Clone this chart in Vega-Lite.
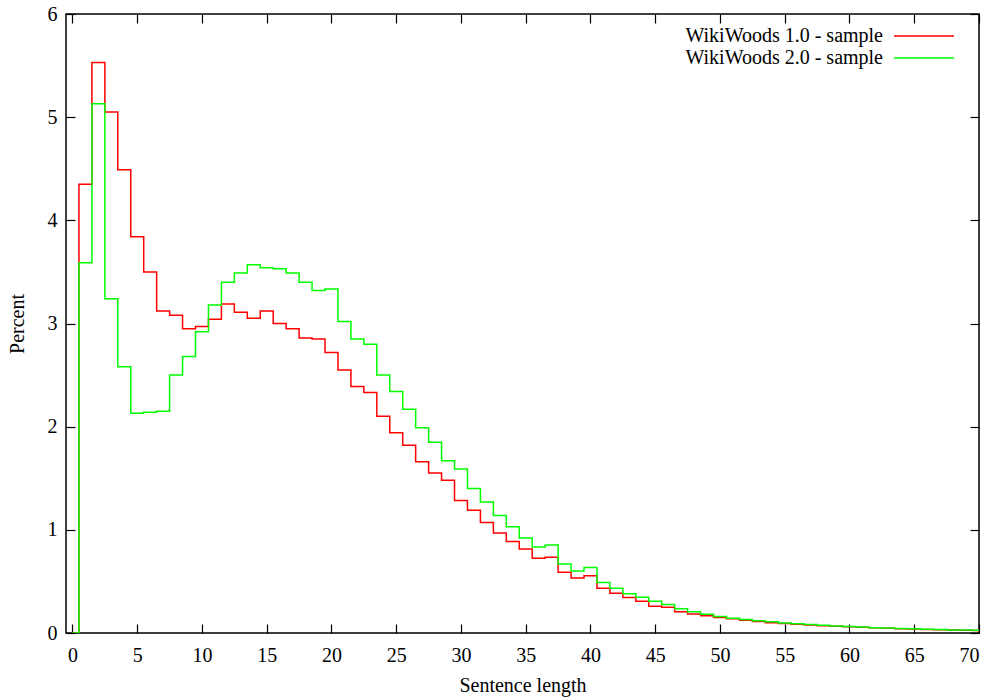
{
  "$schema": "https://vega.github.io/schema/vega-lite/v6.json",
  "width": 913,
  "height": 619,
  "autosize": "none",
  "padding": {"left": 66, "top": 14, "right": 17, "bottom": 64},
  "background": "white",
  "config": {
    "view": {"stroke": "black", "strokeWidth": 1.5},
    "font": "Liberation Serif",
    "axis": {"grid": false, "domain": false, "labelFont": "Liberation Serif", "labelFontSize": 20, "labelColor": "black", "tickColor": "black", "tickWidth": 1.2, "titleFont": "Liberation Serif", "titleFontSize": 20, "titleFontWeight": "normal", "titleColor": "black"},
    "legend": {"labelFont": "Liberation Serif", "labelFontSize": 20, "labelColor": "black"}
  },
  "data": {"values": [
    {"len":0,"series":"WikiWoods 1.0 - sample","pct":0},
    {"len":1,"series":"WikiWoods 1.0 - sample","pct":4.35},
    {"len":2,"series":"WikiWoods 1.0 - sample","pct":5.53},
    {"len":3,"series":"WikiWoods 1.0 - sample","pct":5.05},
    {"len":4,"series":"WikiWoods 1.0 - sample","pct":4.49},
    {"len":5,"series":"WikiWoods 1.0 - sample","pct":3.84},
    {"len":6,"series":"WikiWoods 1.0 - sample","pct":3.50},
    {"len":7,"series":"WikiWoods 1.0 - sample","pct":3.12},
    {"len":8,"series":"WikiWoods 1.0 - sample","pct":3.08},
    {"len":9,"series":"WikiWoods 1.0 - sample","pct":2.95},
    {"len":10,"series":"WikiWoods 1.0 - sample","pct":2.97},
    {"len":11,"series":"WikiWoods 1.0 - sample","pct":3.04},
    {"len":12,"series":"WikiWoods 1.0 - sample","pct":3.19},
    {"len":13,"series":"WikiWoods 1.0 - sample","pct":3.11},
    {"len":14,"series":"WikiWoods 1.0 - sample","pct":3.05},
    {"len":15,"series":"WikiWoods 1.0 - sample","pct":3.12},
    {"len":16,"series":"WikiWoods 1.0 - sample","pct":3.00},
    {"len":17,"series":"WikiWoods 1.0 - sample","pct":2.95},
    {"len":18,"series":"WikiWoods 1.0 - sample","pct":2.86},
    {"len":19,"series":"WikiWoods 1.0 - sample","pct":2.85},
    {"len":20,"series":"WikiWoods 1.0 - sample","pct":2.72},
    {"len":21,"series":"WikiWoods 1.0 - sample","pct":2.55},
    {"len":22,"series":"WikiWoods 1.0 - sample","pct":2.39},
    {"len":23,"series":"WikiWoods 1.0 - sample","pct":2.33},
    {"len":24,"series":"WikiWoods 1.0 - sample","pct":2.10},
    {"len":25,"series":"WikiWoods 1.0 - sample","pct":1.94},
    {"len":26,"series":"WikiWoods 1.0 - sample","pct":1.82},
    {"len":27,"series":"WikiWoods 1.0 - sample","pct":1.66},
    {"len":28,"series":"WikiWoods 1.0 - sample","pct":1.55},
    {"len":29,"series":"WikiWoods 1.0 - sample","pct":1.48},
    {"len":30,"series":"WikiWoods 1.0 - sample","pct":1.285},
    {"len":31,"series":"WikiWoods 1.0 - sample","pct":1.19},
    {"len":32,"series":"WikiWoods 1.0 - sample","pct":1.07},
    {"len":33,"series":"WikiWoods 1.0 - sample","pct":0.97},
    {"len":34,"series":"WikiWoods 1.0 - sample","pct":0.886},
    {"len":35,"series":"WikiWoods 1.0 - sample","pct":0.815},
    {"len":36,"series":"WikiWoods 1.0 - sample","pct":0.724},
    {"len":37,"series":"WikiWoods 1.0 - sample","pct":0.734},
    {"len":38,"series":"WikiWoods 1.0 - sample","pct":0.59},
    {"len":39,"series":"WikiWoods 1.0 - sample","pct":0.534},
    {"len":40,"series":"WikiWoods 1.0 - sample","pct":0.554},
    {"len":41,"series":"WikiWoods 1.0 - sample","pct":0.434},
    {"len":42,"series":"WikiWoods 1.0 - sample","pct":0.385},
    {"len":43,"series":"WikiWoods 1.0 - sample","pct":0.344},
    {"len":44,"series":"WikiWoods 1.0 - sample","pct":0.308},
    {"len":45,"series":"WikiWoods 1.0 - sample","pct":0.26},
    {"len":46,"series":"WikiWoods 1.0 - sample","pct":0.25},
    {"len":47,"series":"WikiWoods 1.0 - sample","pct":0.205},
    {"len":48,"series":"WikiWoods 1.0 - sample","pct":0.185},
    {"len":49,"series":"WikiWoods 1.0 - sample","pct":0.166},
    {"len":50,"series":"WikiWoods 1.0 - sample","pct":0.15},
    {"len":51,"series":"WikiWoods 1.0 - sample","pct":0.137},
    {"len":52,"series":"WikiWoods 1.0 - sample","pct":0.124},
    {"len":53,"series":"WikiWoods 1.0 - sample","pct":0.111},
    {"len":54,"series":"WikiWoods 1.0 - sample","pct":0.10},
    {"len":55,"series":"WikiWoods 1.0 - sample","pct":0.092},
    {"len":56,"series":"WikiWoods 1.0 - sample","pct":0.085},
    {"len":57,"series":"WikiWoods 1.0 - sample","pct":0.078},
    {"len":58,"series":"WikiWoods 1.0 - sample","pct":0.071},
    {"len":59,"series":"WikiWoods 1.0 - sample","pct":0.065},
    {"len":60,"series":"WikiWoods 1.0 - sample","pct":0.06},
    {"len":61,"series":"WikiWoods 1.0 - sample","pct":0.055},
    {"len":62,"series":"WikiWoods 1.0 - sample","pct":0.05},
    {"len":63,"series":"WikiWoods 1.0 - sample","pct":0.046},
    {"len":64,"series":"WikiWoods 1.0 - sample","pct":0.042},
    {"len":65,"series":"WikiWoods 1.0 - sample","pct":0.038},
    {"len":66,"series":"WikiWoods 1.0 - sample","pct":0.035},
    {"len":67,"series":"WikiWoods 1.0 - sample","pct":0.032},
    {"len":68,"series":"WikiWoods 1.0 - sample","pct":0.029},
    {"len":69,"series":"WikiWoods 1.0 - sample","pct":0.027},
    {"len":70,"series":"WikiWoods 1.0 - sample","pct":0.025},
    {"len":0,"series":"WikiWoods 2.0 - sample","pct":0},
    {"len":1,"series":"WikiWoods 2.0 - sample","pct":3.59},
    {"len":2,"series":"WikiWoods 2.0 - sample","pct":5.13},
    {"len":3,"series":"WikiWoods 2.0 - sample","pct":3.24},
    {"len":4,"series":"WikiWoods 2.0 - sample","pct":2.58},
    {"len":5,"series":"WikiWoods 2.0 - sample","pct":2.13},
    {"len":6,"series":"WikiWoods 2.0 - sample","pct":2.14},
    {"len":7,"series":"WikiWoods 2.0 - sample","pct":2.15},
    {"len":8,"series":"WikiWoods 2.0 - sample","pct":2.50},
    {"len":9,"series":"WikiWoods 2.0 - sample","pct":2.68},
    {"len":10,"series":"WikiWoods 2.0 - sample","pct":2.92},
    {"len":11,"series":"WikiWoods 2.0 - sample","pct":3.18},
    {"len":12,"series":"WikiWoods 2.0 - sample","pct":3.40},
    {"len":13,"series":"WikiWoods 2.0 - sample","pct":3.49},
    {"len":14,"series":"WikiWoods 2.0 - sample","pct":3.57},
    {"len":15,"series":"WikiWoods 2.0 - sample","pct":3.54},
    {"len":16,"series":"WikiWoods 2.0 - sample","pct":3.53},
    {"len":17,"series":"WikiWoods 2.0 - sample","pct":3.49},
    {"len":18,"series":"WikiWoods 2.0 - sample","pct":3.40},
    {"len":19,"series":"WikiWoods 2.0 - sample","pct":3.32},
    {"len":20,"series":"WikiWoods 2.0 - sample","pct":3.335},
    {"len":21,"series":"WikiWoods 2.0 - sample","pct":3.02},
    {"len":22,"series":"WikiWoods 2.0 - sample","pct":2.85},
    {"len":23,"series":"WikiWoods 2.0 - sample","pct":2.80},
    {"len":24,"series":"WikiWoods 2.0 - sample","pct":2.50},
    {"len":25,"series":"WikiWoods 2.0 - sample","pct":2.34},
    {"len":26,"series":"WikiWoods 2.0 - sample","pct":2.17},
    {"len":27,"series":"WikiWoods 2.0 - sample","pct":1.99},
    {"len":28,"series":"WikiWoods 2.0 - sample","pct":1.85},
    {"len":29,"series":"WikiWoods 2.0 - sample","pct":1.67},
    {"len":30,"series":"WikiWoods 2.0 - sample","pct":1.59},
    {"len":31,"series":"WikiWoods 2.0 - sample","pct":1.40},
    {"len":32,"series":"WikiWoods 2.0 - sample","pct":1.27},
    {"len":33,"series":"WikiWoods 2.0 - sample","pct":1.14},
    {"len":34,"series":"WikiWoods 2.0 - sample","pct":1.03},
    {"len":35,"series":"WikiWoods 2.0 - sample","pct":0.92},
    {"len":36,"series":"WikiWoods 2.0 - sample","pct":0.834},
    {"len":37,"series":"WikiWoods 2.0 - sample","pct":0.854},
    {"len":38,"series":"WikiWoods 2.0 - sample","pct":0.67},
    {"len":39,"series":"WikiWoods 2.0 - sample","pct":0.60},
    {"len":40,"series":"WikiWoods 2.0 - sample","pct":0.634},
    {"len":41,"series":"WikiWoods 2.0 - sample","pct":0.49},
    {"len":42,"series":"WikiWoods 2.0 - sample","pct":0.434},
    {"len":43,"series":"WikiWoods 2.0 - sample","pct":0.38},
    {"len":44,"series":"WikiWoods 2.0 - sample","pct":0.347},
    {"len":45,"series":"WikiWoods 2.0 - sample","pct":0.308},
    {"len":46,"series":"WikiWoods 2.0 - sample","pct":0.276},
    {"len":47,"series":"WikiWoods 2.0 - sample","pct":0.234},
    {"len":48,"series":"WikiWoods 2.0 - sample","pct":0.205},
    {"len":49,"series":"WikiWoods 2.0 - sample","pct":0.182},
    {"len":50,"series":"WikiWoods 2.0 - sample","pct":0.16},
    {"len":51,"series":"WikiWoods 2.0 - sample","pct":0.144},
    {"len":52,"series":"WikiWoods 2.0 - sample","pct":0.13},
    {"len":53,"series":"WikiWoods 2.0 - sample","pct":0.118},
    {"len":54,"series":"WikiWoods 2.0 - sample","pct":0.108},
    {"len":55,"series":"WikiWoods 2.0 - sample","pct":0.098},
    {"len":56,"series":"WikiWoods 2.0 - sample","pct":0.09},
    {"len":57,"series":"WikiWoods 2.0 - sample","pct":0.082},
    {"len":58,"series":"WikiWoods 2.0 - sample","pct":0.075},
    {"len":59,"series":"WikiWoods 2.0 - sample","pct":0.068},
    {"len":60,"series":"WikiWoods 2.0 - sample","pct":0.062},
    {"len":61,"series":"WikiWoods 2.0 - sample","pct":0.057},
    {"len":62,"series":"WikiWoods 2.0 - sample","pct":0.052},
    {"len":63,"series":"WikiWoods 2.0 - sample","pct":0.048},
    {"len":64,"series":"WikiWoods 2.0 - sample","pct":0.044},
    {"len":65,"series":"WikiWoods 2.0 - sample","pct":0.04},
    {"len":66,"series":"WikiWoods 2.0 - sample","pct":0.036},
    {"len":67,"series":"WikiWoods 2.0 - sample","pct":0.033},
    {"len":68,"series":"WikiWoods 2.0 - sample","pct":0.03},
    {"len":69,"series":"WikiWoods 2.0 - sample","pct":0.028},
    {"len":70,"series":"WikiWoods 2.0 - sample","pct":0.026}
  ]},
  "layer": [
    {
      "mark": {"type": "point", "opacity": 0},
      "encoding": {
        "x": {"field": "len", "type": "quantitative", "scale": {"domain": [-0.5, 70], "nice": false, "zero": false},
              "axis": {"orient": "top", "values": [0,5,10,15,20,25,30,35,40,45,50,55,60,65,70], "labels": false, "title": null, "tickSize": -9}},
        "y": {"field": "pct", "type": "quantitative", "scale": {"domain": [0, 6], "nice": false},
              "axis": {"orient": "right", "values": [0,1,2,3,4,5,6], "labels": false, "title": null, "tickSize": -9}}
      }
    },
    {
      "mark": {"type": "line", "interpolate": "step", "strokeWidth": 1.5, "clip": true},
      "encoding": {
        "x": {"field": "len", "type": "quantitative", "scale": {"domain": [-0.5, 70], "nice": false, "zero": false},
              "axis": {"orient": "bottom", "values": [0,5,10,15,20,25,30,35,40,45,50,55,60,65,70], "title": "Sentence length", "tickSize": -9, "labelPadding": 21, "titlePadding": 10}},
        "y": {"field": "pct", "type": "quantitative", "scale": {"domain": [0, 6], "nice": false},
              "axis": {"orient": "left", "values": [0,1,2,3,4,5,6], "title": "Percent", "tickSize": -9, "labelPadding": 18, "titlePadding": 20}},
        "color": {"field": "series", "type": "nominal",
                  "scale": {"domain": ["WikiWoods 1.0 - sample", "WikiWoods 2.0 - sample"], "range": ["#ff0000", "#00ff00"]},
                  "legend": {"title": null, "orient": "none", "legendX": 847, "legendY": 11, "symbolType": "M-3,0H3", "symbolSize": 400, "symbolStrokeWidth": 1.5, "labelAlign": "right", "labelOffset": -52, "labelLimit": 400, "rowPadding": 1, "padding": 0}}
      }
    }
  ],
  "resolve": {"axis": {"x": "independent", "y": "independent"}}
}
